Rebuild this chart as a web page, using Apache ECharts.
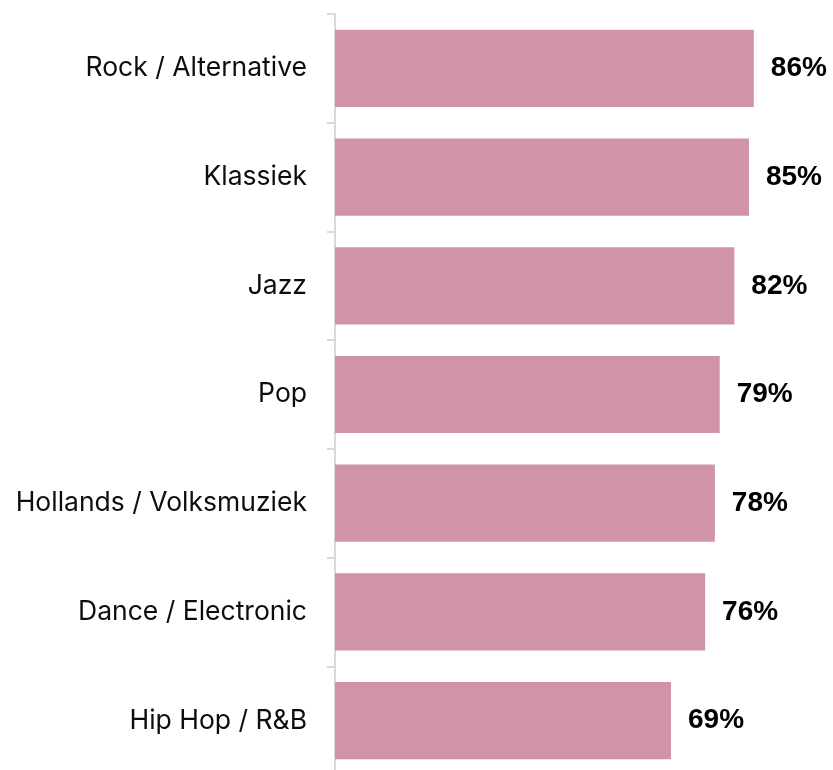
<!DOCTYPE html>
<html>
<head>
<meta charset="utf-8">
<script src="https://cdn.jsdelivr.net/npm/echarts@6/dist/echarts.min.js"></script>
<style>
  html, body { margin: 0; padding: 0; background: #ffffff; }
  #chart { width: 833px; height: 770px; }
</style>
</head>
<body>
<div id="chart"></div>
<script>
// Genres, listed top to bottom
const genres = [
  'Rock / Alternative',
  'Klassiek',
  'Jazz',
  'Pop',
  'Hollands / Volksmuziek',
  'Dance / Electronic',
  'Hip Hop / R&B'
];
// Share per genre, in percent
const shares = [86, 85, 82, 79, 78, 76, 69];

const chart = echarts.init(document.getElementById('chart'), null, { renderer: 'canvas' });

chart.setOption({
  animation: false,
  backgroundColor: '#ffffff',
  grid: {
    left: 335, width: 487, top: 14, height: 761,
    containLabel: false,
    outerBoundsMode: 'none'
  },
  xAxis: {
    type: 'value',
    min: 0,
    max: 100,
    show: false
  },
  yAxis: {
    type: 'category',
    data: genres,
    inverse: true,
    axisLine: { show: true, lineStyle: { color: '#d9d9d9', width: 2 } },
    axisTick: { show: true, length: 8, lineStyle: { color: '#d9d9d9', width: 2 } },
    axisLabel: {
      color: '#0d0d0d',
      fontFamily: 'Inter',
      fontSize: 26.5,
      margin: 28
    },
    splitLine: { show: false }
  },
  series: [{
    type: 'bar',
    data: shares,
    barCategoryGap: '29%',
    itemStyle: { color: '#d093a7' },
    label: {
      show: true,
      position: 'right',
      distance: 17,
      formatter: p => p.value + '%',
      color: '#000000',
      fontFamily: 'Liberation Sans',
      fontWeight: 'bold',
      fontSize: 28
    }
  }]
});
</script>
</body>
</html>
